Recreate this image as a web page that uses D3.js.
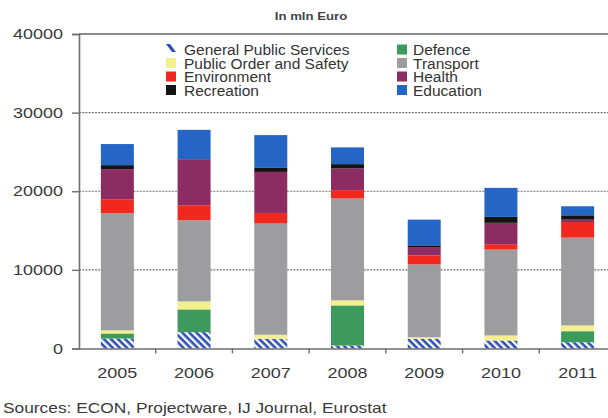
<!DOCTYPE html>
<html>
<head>
<meta charset="utf-8">
<script src="https://cdn.jsdelivr.net/npm/d3@7"></script>
<style>
  html, body { margin: 0; padding: 0; background: #fff; }
  svg { display: block; font-family: "Liberation Sans", Arial, sans-serif; }
</style>
</head>
<body>
<svg id="chart" width="608" height="418"></svg>
<script>
// Public spending by function, in mln Euro
const years = ["2005", "2006", "2007", "2008", "2009", "2010", "2011"];
const generalPublicServices = [1270, 2080, 1240, 380, 1240, 1020, 800];
const defence               = [640, 2890, 0, 5100, 0, 0, 1400];
const publicOrderSafety     = [400, 1020, 510, 640, 190, 640, 730];
const transport             = [14900, 10320, 14140, 12960, 9260, 10920, 11170];
const environment           = [1780, 1910, 1350, 1060, 1150, 680, 1990];
const health                = [3820, 5860, 5220, 2760, 1060, 2720, 300];
const recreation            = [510, 0, 510, 550, 220, 760, 550];
const education             = [2680, 3730, 4170, 2130, 3270, 3690, 1150];
const yTicks = [0, 10000, 20000, 30000, 40000];

const series = [
  { key: "General Public Services", values: generalPublicServices, fill: "url(#hatch)" },
  { key: "Defence",                 values: defence,               fill: "#3b9a5c" },
  { key: "Public Order and Safety", values: publicOrderSafety,     fill: "#f4f08e" },
  { key: "Transport",               values: transport,             fill: "#9d9d9f" },
  { key: "Environment",             values: environment,           fill: "#f0281e" },
  { key: "Health",                  values: health,                fill: "#8c2c62" },
  { key: "Recreation",              values: recreation,            fill: "#141414" },
  { key: "Education",               values: education,             fill: "#2465c6" }
];

const rows = years.map((yr, i) => {
  const r = { year: yr };
  series.forEach(s => { r[s.key] = s.values[i]; });
  return r;
});

const svg = d3.select("#chart");
const plotLeft = 79, plotRight = 616, plotTop = 34, plotBottom = 348.5;
const wide = 1.24; // horizontal stretch of the axis and note lettering

// hatched fill for General Public Services
const defs = svg.append("defs");
const pat = defs.append("pattern")
  .attr("id", "hatch")
  .attr("patternUnits", "userSpaceOnUse")
  .attr("width", 5).attr("height", 5)
  .attr("patternTransform", "rotate(-45)");
pat.append("rect").attr("width", 5).attr("height", 5).attr("fill", "#2d4fb4");
pat.append("rect").attr("x", 0).attr("width", 2.4).attr("height", 5).attr("fill", "#ffffff");

const cell = d3.scaleBand().domain(years).range([plotLeft, plotRight]).padding(0);
const y = d3.scaleLinear().domain([0, 40000]).range([plotBottom, plotTop]);
const barFrac = 0.43;

// grid lines
svg.append("g").selectAll("line")
  .data(yTicks.filter(t => t > 0 && t < 40000))
  .join("line")
  .attr("x1", plotLeft).attr("x2", 608)
  .attr("y1", d => y(d)).attr("y2", d => y(d))
  .attr("stroke", "#6f6f6f").attr("stroke-width", 1.2)
  .attr("stroke-dasharray", "2,1.2");
svg.append("line")
  .attr("x1", plotLeft).attr("x2", 608)
  .attr("y1", y(40000)).attr("y2", y(40000))
  .attr("stroke", "#8a8a8a").attr("stroke-width", 2);

// stacked bars
const stacked = d3.stack().keys(series.map(s => s.key))(rows);
svg.append("g").selectAll("g")
  .data(stacked)
  .join("g")
  .attr("fill", (d, i) => series[i].fill)
  .selectAll("rect")
  .data(d => d)
  .join("rect")
  .attr("x", d => cell(d.data.year) + cell.bandwidth() * (1 - barFrac) / 2)
  .attr("width", cell.bandwidth() * barFrac)
  .attr("y", d => y(d[1]))
  .attr("height", d => Math.max(0, y(d[0]) - y(d[1])));

// y axis
const yAxis = svg.append("g")
  .attr("transform", `translate(${plotLeft},0)`)
  .call(d3.axisLeft(y).tickValues(yTicks).tickFormat(d3.format("d")).tickSize(7));
yAxis.select(".domain").attr("stroke", "#6e6e6e").attr("stroke-width", 1.6);
yAxis.selectAll(".tick line").attr("stroke", "#6e6e6e").attr("stroke-width", 1.4);
yAxis.selectAll(".tick text")
  .attr("x", -16 / wide)
  .attr("transform", `scale(${wide},1)`)
  .attr("fill", "#3a3a3a").attr("font-size", 14.5)
  .attr("font-family", "Liberation Sans, Arial, sans-serif");

// x axis
const xg = svg.append("g");
xg.append("line")
  .attr("x1", plotLeft).attr("x2", 608)
  .attr("y1", plotBottom + 0.5).attr("y2", plotBottom + 0.5)
  .attr("stroke", "#6e6e6e").attr("stroke-width", 1.6);
xg.selectAll("line.tk")
  .data(years.slice(1))
  .join("line")
  .attr("class", "tk")
  .attr("x1", d => cell(d)).attr("x2", d => cell(d))
  .attr("y1", plotBottom).attr("y2", plotBottom + 5)
  .attr("stroke", "#6e6e6e").attr("stroke-width", 1.4);
xg.selectAll("text")
  .data(years)
  .join("text")
  .attr("transform", d => `translate(${cell(d) + cell.bandwidth() / 2},378) scale(${wide},1)`)
  .attr("text-anchor", "middle")
  .attr("font-size", 14.5)
  .attr("fill", "#3a3a3a")
  .text(d => d);

// title
svg.append("text")
  .attr("transform", `translate(311,20) scale(1.2,1)`)
  .attr("text-anchor", "middle")
  .attr("font-size", 11)
  .attr("font-weight", "bold")
  .attr("fill", "#444")
  .text("In mln Euro");

// legend
const legend = svg.append("g");
legend.append("rect")
  .attr("x", 160).attr("y", 38).attr("width", 345).attr("height", 62)
  .attr("fill", "#fff");
const legendOrder = [
  ["General Public Services", 0, 0], ["Public Order and Safety", 0, 1],
  ["Environment", 0, 2], ["Recreation", 0, 3],
  ["Defence", 1, 0], ["Transport", 1, 1], ["Health", 1, 2], ["Education", 1, 3]
];
const colX = [166, 397], textX = [184, 413];
legendOrder.forEach(([key, col, row]) => {
  const s = series.find(d => d.key === key);
  const base = 55 + row * 13.5;
  if (key === "General Public Services") {
    legend.append("path")
      .attr("d", `M${colX[col]},${base - 11} L${colX[col] + 4},${base - 11} L${colX[col] + 10},${base - 3} L${colX[col] + 6},${base - 3} Z`)
      .attr("fill", "#2d4fb4");
  } else {
    legend.append("rect")
      .attr("x", colX[col]).attr("y", base - 10.5)
      .attr("width", 10).attr("height", 10)
      .attr("fill", s.fill);
  }
  legend.append("text")
    .attr("x", textX[col]).attr("y", base)
    .attr("font-size", 15.5)
    .attr("fill", "#333")
    .text(key);
});

// source note
svg.append("text")
  .attr("transform", `translate(3,413) scale(${wide},1)`)
  .attr("font-size", 14)
  .attr("fill", "#3a3a3a")
  .text("Sources: ECON, Projectware, IJ Journal, Eurostat");
</script>
</body>
</html>
